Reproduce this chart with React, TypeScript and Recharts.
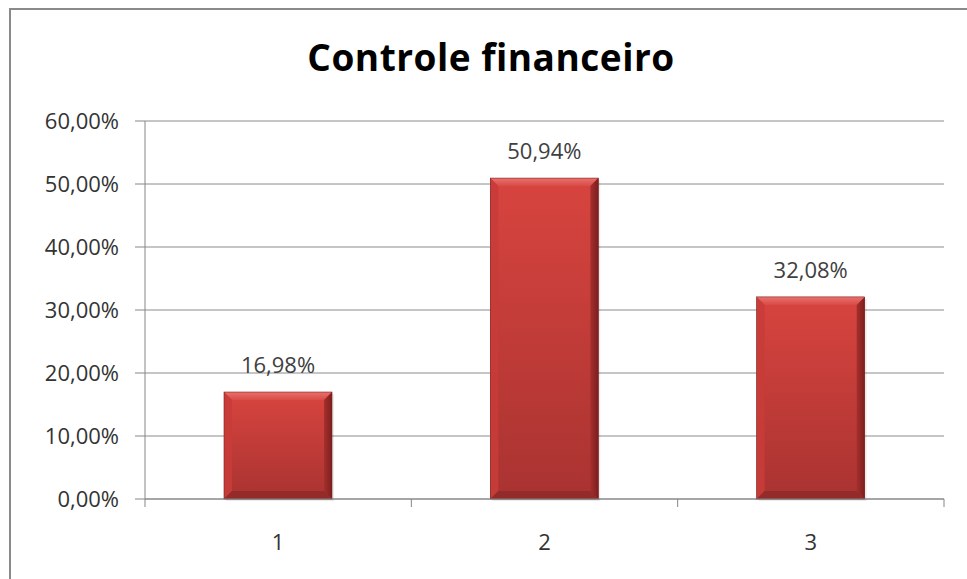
import React from "react";
import { BarChart, Bar, XAxis, YAxis, CartesianGrid, LabelList } from "recharts";

const categories = ["1", "2", "3"];
const values = [16.98, 50.94, 32.08];
const yTicks = [0, 10, 20, 30, 40, 50, 60];
const title = "Controle financeiro";

const data = categories.map((c, i) => ({ cat: c, value: values[i] }));

const fmt = (v: number) => v.toFixed(2).replace(".", ",") + "%";

const FONT = "'Open Sans', 'DejaVu Sans', sans-serif";

const BevelBar = (props: any) => {
  const { x, y, width: w, height: h } = props;
  if (!w || !h) return null;
  const b = Math.min(8, w / 4, h / 4);
  return (
    <g>
      <rect x={x + 2} y={y + 2} width={w} height={h} fill="#000" opacity={0.08} />
      <rect x={x} y={y} width={w} height={h} fill="url(#barFace)" />
      <polygon
        points={`${x},${y} ${x + w},${y} ${x + w - b},${y + b} ${x + b},${y + b}`}
        fill="url(#barTop)"
      />
      <polygon
        points={`${x},${y} ${x + b},${y + b} ${x + b},${y + h - b} ${x},${y + h}`}
        fill="#c83c39"
        opacity={0.9}
      />
      <polygon
        points={`${x + w},${y} ${x + w},${y + h} ${x + w - b},${y + h - b} ${x + w - b},${y + b}`}
        fill="url(#barRight)"
      />
      <polygon
        points={`${x},${y + h} ${x + b},${y + h - b} ${x + w - b},${y + h - b} ${x + w},${y + h}`}
        fill="#8e2a28"
        opacity={0.85}
      />
      <rect x={x} y={y} width={w} height={h} fill="none" stroke="#7a2020" strokeWidth={0.6} />
    </g>
  );
};

const CategoryTick = (props: any) => {
  const { x, y, payload, index, visibleTicksCount } = props;
  const half = payload && typeof payload.offset === "number" ? payload.offset : 0;
  const axisY = y - 35;
  return (
    <g>
      {half > 0 && (
        <line x1={x - half} y1={axisY} x2={x - half} y2={axisY + 8} stroke="#868686" />
      )}
      {half > 0 && index === visibleTicksCount - 1 && (
        <line x1={x + half} y1={axisY} x2={x + half} y2={axisY + 8} stroke="#868686" />
      )}
      <text
        x={x}
        y={y}
        dy="0.71em"
        textAnchor="middle"
        fill="#333"
        fontSize={22}
        fontFamily={FONT}
      >
        {payload.value}
      </text>
    </g>
  );
};

export default function App() {
  return (
    <div
      style={{
        position: "absolute",
        left: 0,
        top: 0,
        width: 967,
        height: 579,
        overflow: "hidden",
        background: "#fff",
      }}
    >
      <div
        style={{
          position: "absolute",
          left: 9,
          top: 8,
          width: 1000,
          height: 1000,
          borderTop: "2.5px solid #8a8a8a",
          borderLeft: "2.5px solid #8a8a8a",
        }}
      />
      <div
        style={{
          position: "absolute",
          left: 0,
          width: 982,
          top: 33,
          textAlign: "center",
          fontFamily: FONT,
          fontWeight: 700,
          fontSize: 37,
          letterSpacing: 0.5,
          lineHeight: "48px",
          color: "#000",
        }}
      >
        {title}
      </div>
      <div style={{ position: "absolute", left: 0, top: 0 }}>
        <BarChart
          width={967}
          height={579}
          data={data}
          margin={{ top: 121, right: 23, left: 0, bottom: 0 }}
        >
          <defs>
            <linearGradient id="barFace" x1="0" y1="0" x2="0" y2="1">
              <stop offset="0%" stopColor="#d8443f" />
              <stop offset="100%" stopColor="#a93331" />
            </linearGradient>
            <linearGradient id="barTop" x1="0" y1="0" x2="0" y2="1">
              <stop offset="0%" stopColor="#e9726d" />
              <stop offset="100%" stopColor="#d94a45" />
            </linearGradient>
            <linearGradient id="barRight" x1="0" y1="0" x2="1" y2="0">
              <stop offset="0%" stopColor="#a62f2d" />
              <stop offset="100%" stopColor="#7c1f1e" />
            </linearGradient>
          </defs>
          <CartesianGrid vertical={false} stroke="#8c8c8c" strokeWidth={1} />
          <XAxis
            dataKey="cat"
            tickLine={false}
            tickSize={0}
            tickMargin={35}
            height={80}
            interval={0}
            axisLine={{ stroke: "#868686" }}
            tick={<CategoryTick />}
          />
          <YAxis
            width={145}
            domain={[0, 60]}
            ticks={yTicks}
            tickFormatter={fmt}
            tickSize={10}
            tickMargin={16}
            axisLine={{ stroke: "#868686" }}
            tickLine={{ stroke: "#868686" }}
            tick={{ fill: "#333", fontSize: 22, fontFamily: FONT }}
          />
          <Bar dataKey="value" barSize={108} shape={<BevelBar />} isAnimationActive={false}>
            <LabelList
              dataKey="value"
              position="top"
              offset={19}
              formatter={(v: any) => fmt(Number(v))}
              style={{ fill: "#404040", fontSize: 22, fontFamily: FONT }}
            />
          </Bar>
        </BarChart>
      </div>
    </div>
  );
}
